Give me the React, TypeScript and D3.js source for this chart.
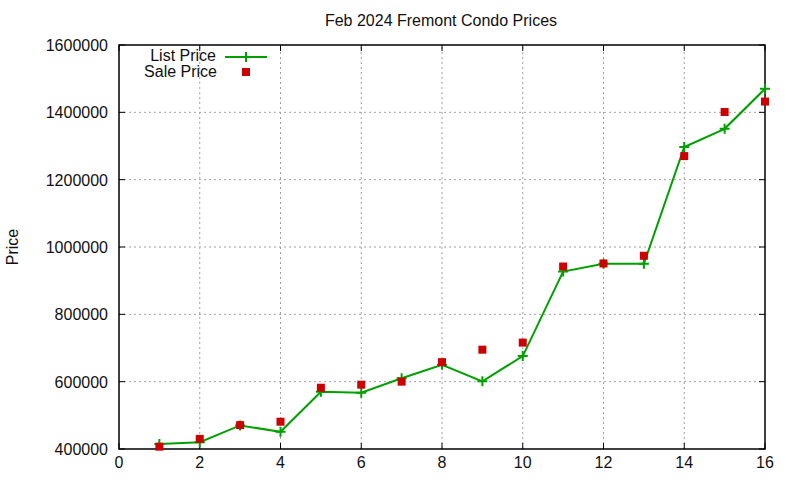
import React, { useEffect, useRef } from 'react'
import * as d3 from 'd3'

const houses = [1, 2, 3, 4, 5, 6, 7, 8, 9, 10, 11, 12, 13, 14, 15, 16]
const listPrices = [415000, 420000, 470000, 451000, 570000, 567000, 610000, 650000, 601000, 676000, 927000, 950000, 950000, 1297000, 1351000, 1470000]
const salePrices = [407000, 430000, 471000, 481000, 582000, 591000, 600000, 658000, 695000, 716000, 942000, 951000, 974000, 1270000, 1401000, 1432000]
const xTicks = [0, 2, 4, 6, 8, 10, 12, 14, 16]
const yTicks = [400000, 600000, 800000, 1000000, 1200000, 1400000, 1600000]

const width = 800
const height = 480
const margin = { left: 119, right: 35, top: 45, bottom: 31 }
const GREEN = '#00a000'
const RED = '#cc0000'
const FONT = 'Liberation Sans, Arial, sans-serif'

function App() {
    const ref = useRef<SVGSVGElement>(null)

    useEffect(() => {
        const svg = d3.select(ref.current)
        svg.selectAll('*').remove()

        const x = d3.scaleLinear().domain([0, 16]).range([margin.left, width - margin.right])
        const y = d3.scaleLinear().domain([400000, 1600000]).range([height - margin.bottom, margin.top])
        const [x0, x1] = x.range()
        const [y0, y1] = y.range()

        // grid
        const grid = svg.append('g').attr('stroke', '#a0a0a0').attr('stroke-width', 1).attr('stroke-dasharray', '2,3')
        grid.selectAll('.gx').data(xTicks.slice(1, -1)).join('line')
            .attr('x1', d => x(d)).attr('x2', d => x(d)).attr('y1', y0).attr('y2', y1)
        grid.selectAll('.gy').data(yTicks.slice(1, -1)).join('line')
            .attr('y1', d => y(d)).attr('y2', d => y(d)).attr('x1', x0).attr('x2', x1)

        // ticks (inward, mirrored)
        const ticks = svg.append('g').attr('stroke', '#000').attr('stroke-width', 1)
        xTicks.forEach(t => {
            ticks.append('line').attr('x1', x(t)).attr('x2', x(t)).attr('y1', y0).attr('y2', y0 - 6)
            ticks.append('line').attr('x1', x(t)).attr('x2', x(t)).attr('y1', y1).attr('y2', y1 + 6)
        })
        yTicks.forEach(t => {
            ticks.append('line').attr('x1', x0).attr('x2', x0 + 6).attr('y1', y(t)).attr('y2', y(t))
            ticks.append('line').attr('x1', x1).attr('x2', x1 - 6).attr('y1', y(t)).attr('y2', y(t))
        })

        // border
        svg.append('rect').attr('x', x0).attr('y', y1).attr('width', x1 - x0).attr('height', y0 - y1)
            .attr('fill', 'none').attr('stroke', '#000').attr('stroke-width', 1.5)

        const txt = svg.append('g').attr('font-family', FONT).attr('font-size', 16).attr('fill', '#111')
        txt.selectAll('.xl').data(xTicks).join('text')
            .attr('x', d => x(d)).attr('y', y0 + 19).attr('text-anchor', 'middle').text(d => d)
        txt.selectAll('.yl').data(yTicks).join('text')
            .attr('x', x0 - 11).attr('y', d => y(d) + 6).attr('text-anchor', 'end').text(d => d)
        txt.append('text').attr('x', 441).attr('y', 26).attr('text-anchor', 'middle').text('Feb 2024 Fremont Condo Prices')
        txt.append('text').attr('transform', `translate(18,${(y0 + y1) / 2}) rotate(-90)`)
            .attr('text-anchor', 'middle').text('Price')

        // list price line
        const line = d3.line<number>().x((_d, i) => x(houses[i])).y(d => y(d))
        svg.append('path').datum(listPrices).attr('d', line)
            .attr('fill', 'none').attr('stroke', GREEN).attr('stroke-width', 2)
        const plus = (g, cx, cy) => {
            g.append('path').attr('d', `M${cx - 5},${cy}H${cx + 5}M${cx},${cy - 5}V${cy + 5}`)
                .attr('stroke', GREEN).attr('stroke-width', 2)
        }
        const pts = svg.append('g')
        listPrices.forEach((v, i) => plus(pts, x(houses[i]), y(v)))

        // sale price squares
        svg.append('g').selectAll('rect').data(salePrices).join('rect')
            .attr('x', (_d, i) => x(houses[i]) - 4).attr('y', d => y(d) - 4)
            .attr('width', 8).attr('height', 8).attr('fill', RED)

        // legend
        txt.append('text').attr('x', 216).attr('y', 61).attr('text-anchor', 'end').text('List Price')
        txt.append('text').attr('x', 217).attr('y', 77).attr('text-anchor', 'end').text('Sale Price')
        svg.append('line').attr('x1', 225).attr('x2', 267).attr('y1', 57).attr('y2', 57)
            .attr('stroke', GREEN).attr('stroke-width', 2)
        plus(svg, 246, 57)
        svg.append('rect').attr('x', 242).attr('y', 68).attr('width', 8).attr('height', 8).attr('fill', RED)
    }, [])

    return (
        <svg ref={ref} width={width} height={height}
            style={{ position: 'absolute', left: 0, top: 0, background: '#fff' }} />
    )
}

export default App
